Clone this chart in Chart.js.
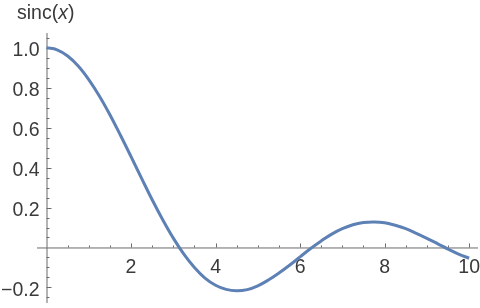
<!DOCTYPE html>
<html>
<head>
<meta charset="utf-8">
<script src="https://cdn.jsdelivr.net/npm/chart.js@4/dist/chart.umd.min.js"></script>
<style>
    html, body { margin: 0; padding: 0; background: #fff; }
    #wrap { width: 480px; height: 308px; position: relative; }
</style>
</head>
<body>
<div id="wrap"><canvas id="sincChart"></canvas></div>
<script>
// values
const xValues = [0, 0.25, 0.5, 0.75, 1, 1.25, 1.5, 1.75, 2, 2.25, 2.5, 2.75, 3, 3.25, 3.5, 3.75,
    4, 4.25, 4.5, 4.75, 5, 5.25, 5.5, 5.75, 6, 6.25, 6.5, 6.75, 7, 7.25, 7.5, 7.75,
    8, 8.25, 8.5, 8.75, 9, 9.25, 9.5, 9.75, 10];
const sincValues = [1.0, 0.99, 0.959, 0.909, 0.841, 0.759, 0.665, 0.562, 0.455, 0.346, 0.239, 0.139, 0.047, -0.033, -0.100, -0.153,
    -0.189, -0.210, -0.217, -0.211, -0.192, -0.163, -0.128, -0.089, -0.047, -0.005, 0.033, 0.067, 0.094, 0.114, 0.125, 0.128,
    0.124, 0.111, 0.094, 0.071, 0.046, 0.019, -0.008, -0.033, -0.054];
const xTickLabels = [2, 4, 6, 8, 10];
const yTickLabels = [-0.2, 0.2, 0.4, 0.6, 0.8, 1.0];
const xMinorStep = 0.5;
const yMinorStep = 0.05;

const FONT = '19.5px "Liberation Sans", Arial, sans-serif';
const AXIS_COLOR = '#6b6b6b';
const TEXT_COLOR = '#3a3a3a';

// axes crossing at the origin, ticks pointing inward, like Mathematica
const originAxes = {
    id: 'originAxes',
    beforeDatasetsDraw(chart) {
        const { ctx, chartArea, scales } = chart;
        const xs = scales.x, ys = scales.y;
        const x0 = xs.getPixelForValue(0);
        const y0 = ys.getPixelForValue(0);
        ctx.save();
        ctx.strokeStyle = AXIS_COLOR;
        ctx.lineWidth = 1;
        ctx.beginPath();
        ctx.moveTo(chartArea.left, y0 + 0.5);
        ctx.lineTo(chartArea.right, y0 + 0.5);
        ctx.moveTo(x0 + 0.5, chartArea.top);
        ctx.lineTo(x0 + 0.5, chartArea.bottom);
        // x minor / major ticks
        for (let v = xMinorStep; v <= xs.max; v += xMinorStep) {
            const px = Math.round(xs.getPixelForValue(v)) + 0.5;
            const len = xTickLabels.includes(Math.round(v * 10) / 10) ? 4 : 2;
            ctx.moveTo(px, y0);
            ctx.lineTo(px, y0 - len);
        }
        // y minor / major ticks
        for (let v = -0.25; v <= ys.max; v += yMinorStep) {
            const r = Math.round(v * 100) / 100;
            if (r === 0) continue;
            const py = Math.round(ys.getPixelForValue(r)) + 0.5;
            const len = yTickLabels.some(t => Math.abs(t - r) < 1e-6) ? 4 : 2;
            ctx.moveTo(x0, py);
            ctx.lineTo(x0 + 1 + len, py);
        }
        ctx.stroke();

        // tick labels
        ctx.fillStyle = TEXT_COLOR;
        ctx.font = FONT;
        ctx.textBaseline = 'alphabetic';
        ctx.textAlign = 'center';
        xTickLabels.forEach(v => {
            ctx.fillText(String(v), xs.getPixelForValue(v), y0 + 26);
        });
        ctx.textAlign = 'right';
        yTickLabels.forEach(v => {
            const txt = (v < 0 ? '\u2212' : '') + Math.abs(v).toFixed(1);
            ctx.fillText(txt, x0 - 7, ys.getPixelForValue(v) + 8.5);
        });

        // axis label
        ctx.textAlign = 'left';
        let lx = 17;
        const ly = 19;
        ctx.fillText('sinc(', lx, ly);
        lx += ctx.measureText('sinc(').width;
        ctx.font = 'italic ' + FONT;
        ctx.fillText('x', lx, ly);
        lx += ctx.measureText('x').width;
        ctx.font = FONT;
        ctx.fillText(')', lx, ly);
        ctx.restore();
    }
};

new Chart(document.getElementById('sincChart'), {
    type: 'line',
    data: {
        labels: xValues,
        datasets: [{
            label: 'sinc(x)',
            data: xValues.map((x, i) => ({ x: x, y: sincValues[i] })),
            borderColor: '#5E81B5',
            borderWidth: 3,
            pointRadius: 0,
            tension: 0.4,
            fill: false
        }]
    },
    options: {
        responsive: true,
        maintainAspectRatio: false,
        animation: false,
        layout: {
            padding: { left: 37, right: 2, top: 33, bottom: 5 }
        },
        plugins: {
            legend: { display: false },
            tooltip: { enabled: false }
        },
        scales: {
            x: { type: 'linear', min: -0.225, max: 10.21, display: false },
            y: { type: 'linear', min: -0.278, max: 1.074, display: false }
        }
    },
    plugins: [originAxes]
});
</script>
</body>
</html>
